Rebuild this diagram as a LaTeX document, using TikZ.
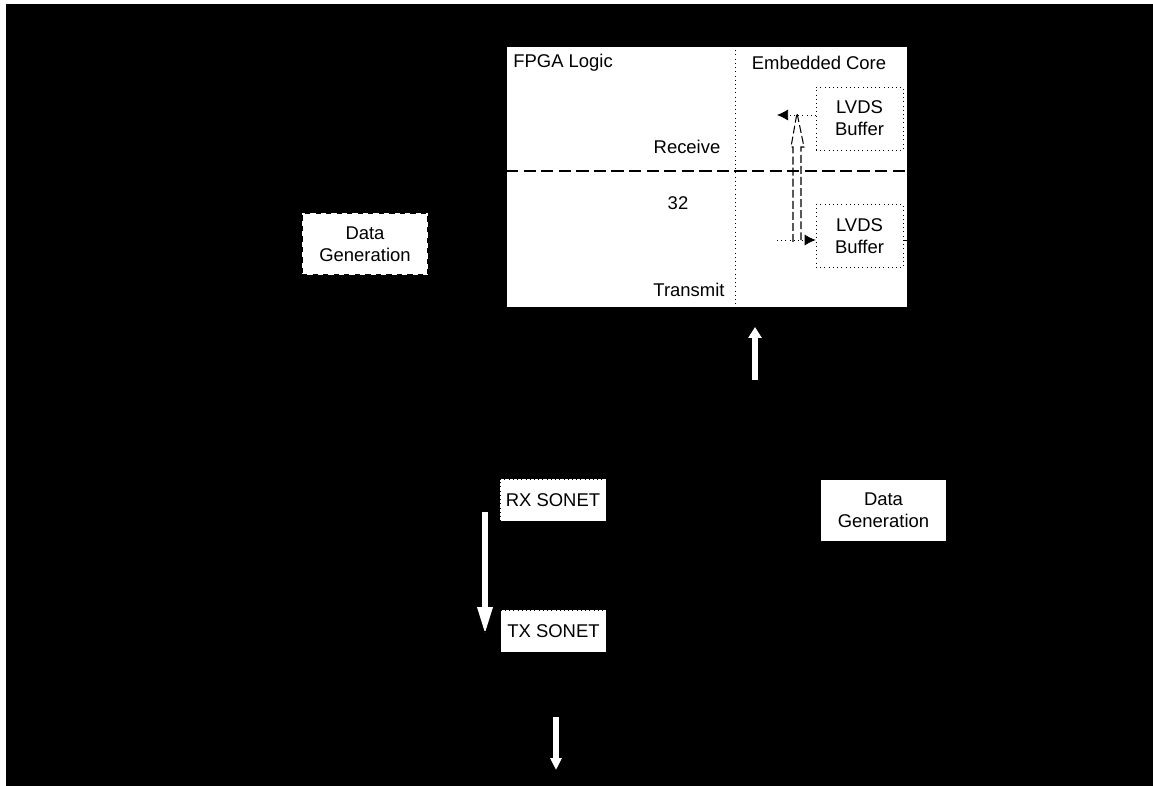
\documentclass[tikz,border=0pt]{standalone}
\usepackage{fontspec}
\setmainfont{Liberation Sans}
\usepackage{tikz}
\usetikzlibrary{positioning,arrows.meta,calc}

\begin{document}
\begin{tikzpicture}[x=0.02cm, y=-0.02cm, >={Latex[length=2.2mm,width=2.2mm]}, font=\fontsize{10.5}{12.5}\selectfont]
		\tikzstyle{every node}=[align=center, inner sep=0pt]
		\tikzstyle{buffer}=[draw=black, fill=white, dotted, minimum width=1.74cm, minimum height=1.26cm]
		\tikzstyle{sonet}=[draw=black, fill=white, dotted, minimum width=2.12cm, minimum height=0.84cm]
		\tikzstyle{generator}=[draw=black, fill=white, dashed, thick, minimum width=2.52cm, minimum height=1.24cm]
		\tikzstyle{bus}=[white, line width=1.2mm]
		\useasboundingbox (0,0) rectangle (1153,786);
		\fill[black] (6,4) rectangle (1153,786);

		% FPGA board
		\node[draw=black, fill=white, minimum width=8.02cm, minimum height=5.22cm] (fpga) at (706.5,176.5) {};
		\draw[dotted] (735,46) -- (735,307); \draw[thick, dash pattern=on 7pt off 3pt] (506,171) -- (907,171);
		\node[anchor=west] (logic) at (513,63) {FPGA Logic}; \node (core) at (819,63) {Embedded Core};
		\node (rx) at (687,147) {Receive}; \node (width) at (678,203) {32};
		\node (tx) at (689,290) {Transmit};
		\node[buffer] (lvdsA) at (859.5,118.5) {LVDS\\Buffer};
		\node[buffer] (lvdsB) at (859.5,236) {LVDS\\Buffer};
		\coordinate (rxout) at (777,115); \coordinate (txin) at (777,240);
		\draw[dotted,->] (lvdsA.west |- rxout) -- (rxout); \draw[dotted,->] (txin) -- (txin -| lvdsB.west);
		\draw (lvdsB.east |- txin) -- ++(30,0);
		% loopback
		\coordinate (loopb) at (797,242); \coordinate (loopt) at (797,113);
		\draw[semithick, dash pattern=on 4.5pt off 1.8pt] ($(loopb)+(-4,0)$) -- ++(0,-95) -- ++(-2,0) -- (loopt) -- ++(7,34) -- ++(-3,0) -- ++(0,95);

		% other blocks
		\node[generator] (genA) at (365,244) {Data\\Generation};
		\node[generator] (genB) at (883.5,510.5) {Data\\Generation};
		\node[sonet] (rxS) at (553,500) {RX SONET};
		\node[sonet] (txS) at (553.5,631) {TX SONET};
		\coordinate (rxd) at (485,512); \coordinate (txd) at (485,635);
		\draw[bus,-{Triangle[width=2.8mm,length=5.6mm]}] (rxd) -- (txd);
		\draw[->] ($(txS.west)+(-40,0)$) -- (txS.west);
		\coordinate (upb) at (755,380); \coordinate (upt) at (755,327);
		\draw[bus,-{Triangle[width=2.6mm,length=2.2mm]}] (upb) -- (upt);
		\coordinate (dnt) at (556,717); \coordinate (dnb) at (556,770);
		\draw[bus,-{Triangle[width=2.2mm,length=2.4mm]}] (dnt) -- (dnb);
\end{tikzpicture}
\end{document}
